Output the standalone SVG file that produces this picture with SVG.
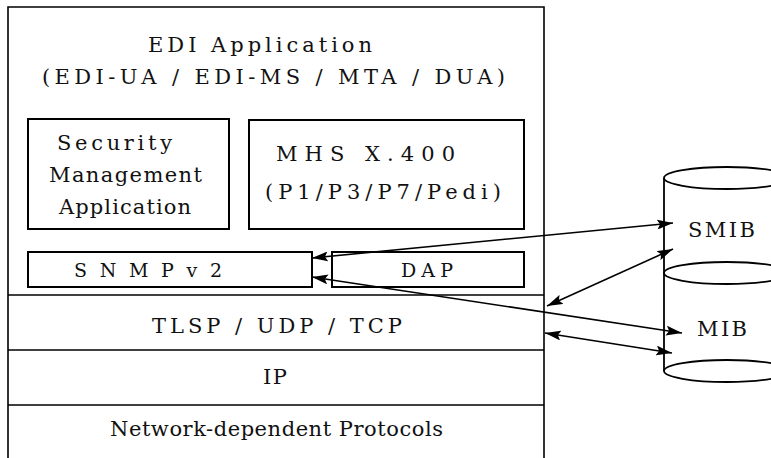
<svg xmlns="http://www.w3.org/2000/svg" width="771" height="458" viewBox="0 0 771 458">
  <style>
    .frame { fill: none; stroke: #000; stroke-width: 1.6; }
    .box { fill: #fff; stroke: #000; stroke-width: 2; }
    .lbl { font-family: "DejaVu Serif", "Liberation Serif", serif; font-size: 21px; fill: #111; }
    .sm { font-size: 19px; }
    .db { fill: none; stroke: #000; stroke-width: 1.8; }
    .link { fill: none; stroke: #000; stroke-width: 1.6; marker-start: url(#head); marker-end: url(#head); }
  </style>
  <defs>
    <marker id="head" viewBox="0 0 16 10" refX="16" refY="5" markerWidth="16" markerHeight="10" markerUnits="userSpaceOnUse" orient="auto-start-reverse">
      <path d="M0,0 L16,5 L0,10 L3,5 z" fill="#000"/>
    </marker>
  </defs>

  <rect width="771" height="458" fill="#fff"/>

  <!-- protocol stack frame -->
  <g id="stack">
    <path class="frame" d="M8,458 V7 H544 V458"/>
    <line class="frame" x1="8" y1="295" x2="544" y2="295"/>
    <line class="frame" x1="8" y1="350" x2="544" y2="350"/>
    <line class="frame" x1="8" y1="405" x2="544" y2="405"/>
  </g>

  <g id="edi-app">
    <text class="lbl" x="148" y="52" textLength="224" lengthAdjust="spacing">EDI Application</text>
    <text class="lbl" x="42" y="84" textLength="463" lengthAdjust="spacing">(EDI-UA / EDI-MS / MTA / DUA)</text>
  </g>

  <g id="sec-mgmt">
    <rect class="box" x="28" y="119" width="201" height="110"/>
    <text class="lbl" x="57" y="150" textLength="115" lengthAdjust="spacing">Security</text>
    <text class="lbl" x="49" y="182" textLength="153" lengthAdjust="spacing">Management</text>
    <text class="lbl" x="59" y="214" textLength="132" lengthAdjust="spacing">Application</text>
  </g>

  <g id="mhs">
    <rect class="box" x="249" y="120" width="275" height="109"/>
    <text class="lbl" x="276" y="161" textLength="179" lengthAdjust="spacing">MHS X.400</text>
    <text class="lbl" x="265" y="199" textLength="236" lengthAdjust="spacing">(P1/P3/P7/Pedi)</text>
  </g>

  <g id="snmp">
    <rect class="box" x="28" y="252" width="284" height="35"/>
    <text class="lbl sm" x="74" y="277" textLength="148" lengthAdjust="spacing">SNMPv2</text>
  </g>

  <g id="dap">
    <rect class="box" x="332" y="252" width="192" height="35"/>
    <text class="lbl sm" x="401" y="277" textLength="52" lengthAdjust="spacing">DAP</text>
  </g>

  <g id="transport">
    <text class="lbl" x="152" y="333" textLength="250" lengthAdjust="spacing">TLSP / UDP / TCP</text>
  </g>

  <g id="ip">
    <text class="lbl" x="263" y="384" textLength="24" lengthAdjust="spacing">IP</text>
  </g>

  <g id="netdep">
    <text class="lbl" x="110" y="436" textLength="333" lengthAdjust="spacing">Network-dependent Protocols</text>
  </g>

  <!-- stacked information bases -->
  <g id="smib">
    <line class="db" x1="664" y1="178" x2="664" y2="273"/>
    <ellipse class="db" cx="727" cy="178" rx="63" ry="11"/>
    <text class="lbl" x="688" y="237" textLength="67" lengthAdjust="spacing">SMIB</text>
  </g>
  <g id="mib">
    <line class="db" x1="664" y1="273" x2="664" y2="371"/>
    <ellipse class="db" cx="727" cy="273" rx="63" ry="11"/>
    <ellipse class="db" cx="727" cy="371" rx="63" ry="11"/>
    <text class="lbl" x="697" y="336" textLength="50" lengthAdjust="spacing">MIB</text>
  </g>

  <g id="connectors">
    <line class="link" x1="312" y1="258" x2="673" y2="223"/>
    <line class="link" x1="547" y1="306" x2="673" y2="249"/>
    <line class="link" x1="312" y1="277" x2="682" y2="333"/>
    <line class="link" x1="545" y1="333" x2="672" y2="353"/>
  </g>
</svg>
